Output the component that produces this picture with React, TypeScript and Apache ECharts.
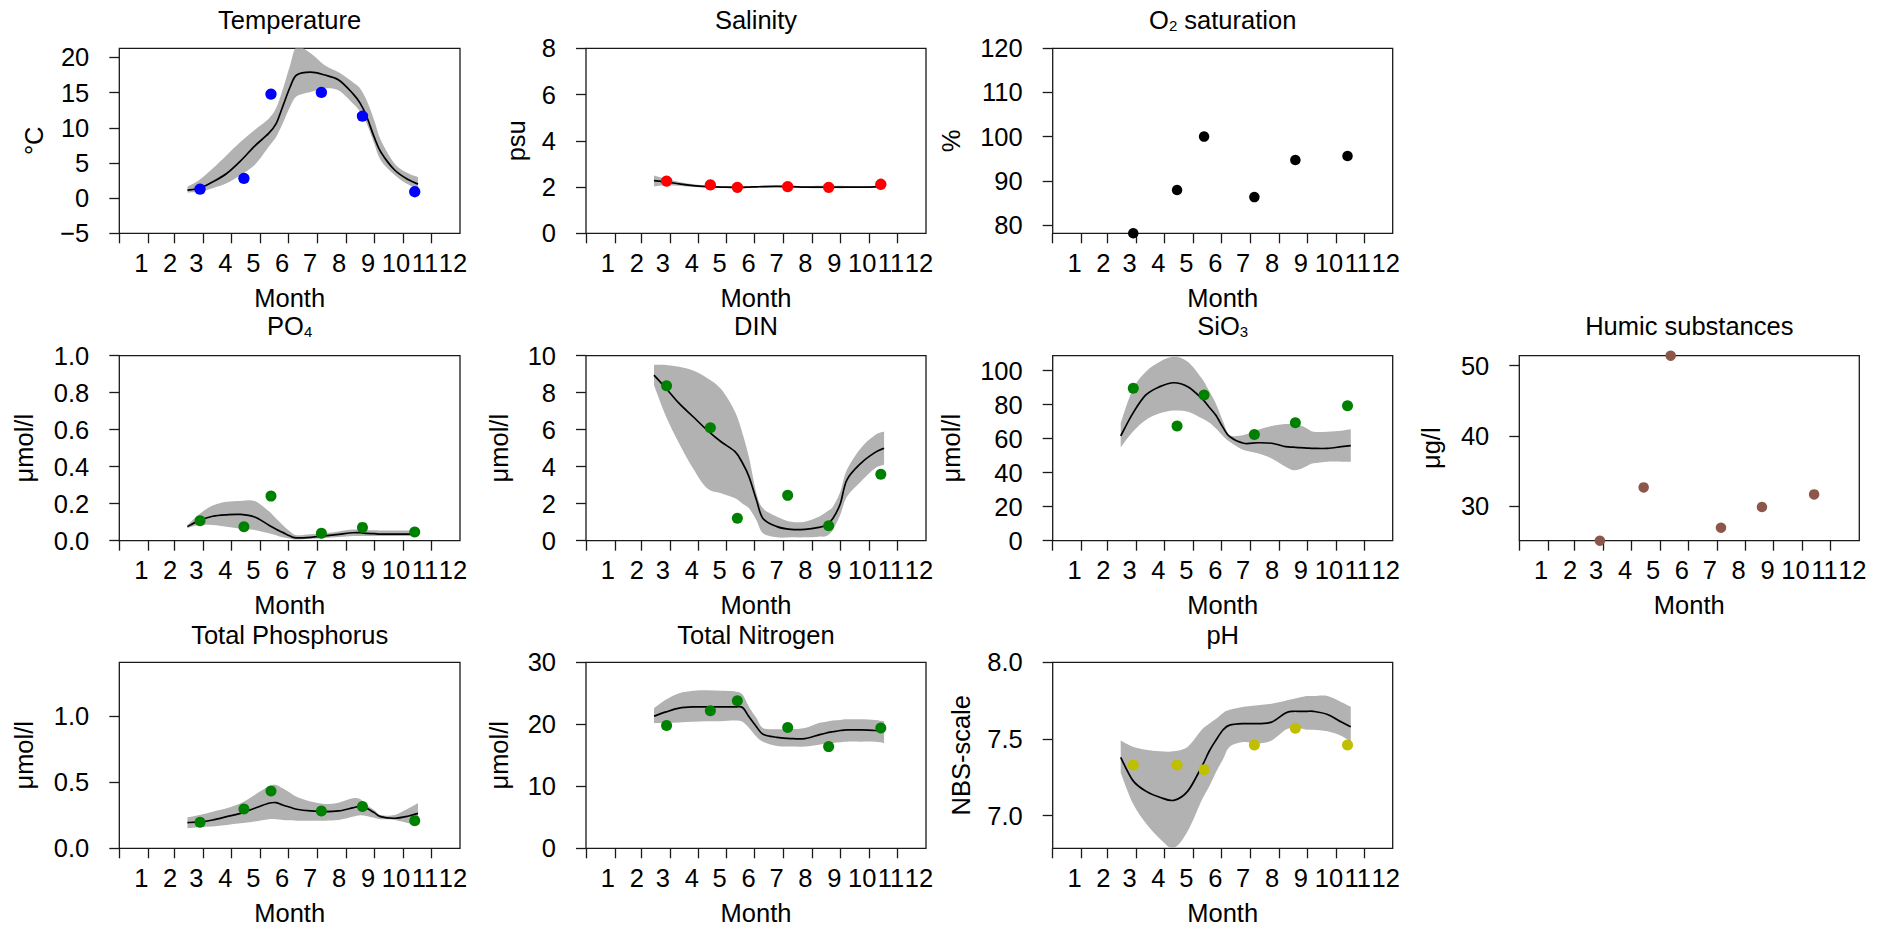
import React, { useEffect, useRef } from "react";
import * as echarts from "echarts";

// ---------- x axis (day of year) ----------
const MONTH_STARTS = [0, 31, 59, 90, 120, 151, 181, 212, 243, 273, 304, 334];
const MONTH_LABEL_POS = [23.5, 54.5, 82.5, 113.5, 143.5, 174.5, 204.5, 235.5, 266.5, 296.5, 327.5, 357.5];
const MONTH_LABELS = ["1", "2", "3", "4", "5", "6", "7", "8", "9", "10", "11", "12"];

// sampling days
const OBS_DAYS = [86.5, 133.5, 162.5, 216.5, 260.5, 316.5];
const FIT_DAYS = [73, 86, 100, 115, 130, 145, 160, 168, 175, 183, 190, 205, 220, 235, 250, 258, 265, 273, 280, 295, 310, 320];

// ---------- Temperature ----------
const TEMP_OBS = [1.29, 2.81, 14.79, 15.03, 11.66, 0.91];
const TEMP_FIT = [1.15, 1.4, 2.3, 3.5, 5.3, 7.4, 9.2, 10.6, 13.0, 15.8, 17.5, 17.9, 17.5, 16.8, 14.9, 13.5, 11.6, 8.7, 6.6, 4.0, 2.6, 2.0];
const TEMP_HI = [1.6, 2.6, 4.2, 6.1, 8.0, 9.7, 11.3, 12.8, 15.4, 18.9, 21.5, 20.6, 18.9, 17.9, 16.5, 15.6, 13.9, 11.1, 8.3, 4.9, 3.5, 3.0];
const TEMP_LO = [0.8, 0.9, 1.4, 2.1, 3.3, 4.7, 7.3, 8.7, 10.6, 13.0, 14.5, 15.1, 15.6, 15.3, 13.5, 12.3, 10.6, 7.8, 5.4, 3.3, 1.9, 1.4];

// ---------- Salinity ----------
const SAL_OBS = [2.26, 2.09, 1.99, 2.02, 1.99, 2.12];
const SAL_FIT = [2.28, 2.22, 2.14, 2.06, 2.02, 2.0, 1.99, 1.99, 2.0, 2.01, 2.02, 2.03, 2.02, 2.0, 2.0, 2.0, 2.0, 2.0, 2.0, 2.0, 2.01, 2.05];
const SAL_HI = [2.5, 2.35, 2.22, 2.12, 2.06, 2.04, 2.03, 2.03, 2.04, 2.05, 2.06, 2.08, 2.06, 2.05, 2.06, 2.06, 2.06, 2.06, 2.05, 2.04, 2.06, 2.1];
const SAL_LO = [2.03, 2.08, 2.06, 2.0, 1.98, 1.96, 1.95, 1.95, 1.96, 1.97, 1.98, 1.99, 1.98, 1.96, 1.95, 1.95, 1.95, 1.95, 1.96, 1.97, 1.97, 2.0];

// ---------- O2 saturation ----------
const O2_OBS = [78.1, 87.9, 100.0, 86.3, 94.7, 95.6];

// ---------- PO4 ----------
const PO4_OBS = [0.108, 0.076, 0.241, 0.04, 0.072, 0.047];
const PO4_FIT = [0.076, 0.11, 0.132, 0.14, 0.142, 0.128, 0.085, 0.062, 0.045, 0.025, 0.015, 0.018, 0.026, 0.034, 0.043, 0.043, 0.04, 0.038, 0.036, 0.036, 0.036, 0.036];
const PO4_HI = [0.085, 0.145, 0.19, 0.21, 0.215, 0.215, 0.16, 0.12, 0.085, 0.05, 0.03, 0.035, 0.04, 0.05, 0.06, 0.06, 0.058, 0.056, 0.055, 0.055, 0.055, 0.055];
const PO4_LO = [0.07, 0.085, 0.085, 0.075, 0.065, 0.058, 0.04, 0.03, 0.018, 0.01, 0.006, 0.01, 0.014, 0.02, 0.025, 0.025, 0.025, 0.025, 0.025, 0.025, 0.025, 0.025];

// ---------- DIN ----------
const DIN_OBS = [8.38, 6.11, 1.21, 2.45, 0.81, 3.59];
const DIN_FIT = [8.95, 8.23, 7.42, 6.7, 5.98, 5.35, 4.81, 4.2, 3.46, 2.2, 1.2, 0.76, 0.61, 0.61, 0.72, 0.85, 1.2, 2.0, 3.28, 4.18, 4.76, 5.0];
const DIN_HI = [9.5, 9.5, 9.4, 9.2, 8.8, 8.2, 6.97, 5.8, 4.5, 2.56, 1.75, 1.3, 1.03, 1.03, 1.3, 1.55, 1.84, 2.65, 3.82, 5.0, 5.7, 5.9];
const DIN_LO = [8.4, 6.7, 5.26, 3.9, 2.83, 2.56, 2.29, 2.0, 1.75, 1.1, 0.4, 0.18, 0.18, 0.18, 0.22, 0.25, 0.58, 1.4, 2.38, 3.19, 3.9, 4.1];

// ---------- SiO3 ----------
const SIO3_OBS = [89.6, 67.5, 85.7, 62.5, 69.4, 79.4];
const SIO3_FIT = [61.6, 74.9, 85.7, 90.6, 92.9, 90.6, 83.7, 78.5, 73.9, 66.5, 61.2, 57.3, 57.6, 57.3, 55.3, 55.0, 54.7, 54.5, 54.3, 54.3, 55.3, 55.9];
const SIO3_HI = [69, 89, 99.4, 105.3, 108.2, 105.3, 95.5, 88, 80.8, 70, 62.2, 62.2, 65.1, 67.5, 68.6, 68.5, 68.0, 66.0, 64.1, 64.1, 64.7, 65.5];
const SIO3_LO = [54.9, 64.1, 71, 74.9, 76.5, 75.9, 72, 69.5, 66.1, 61.5, 58.2, 53.3, 51.4, 48.4, 43.5, 41.5, 42, 44, 45.5, 46.5, 46.5, 46.5];

// ---------- Humic substances ----------
const HUMIC_OBS = [25.06, 32.66, 51.43, 26.91, 29.86, 31.66];

// ---------- Total Phosphorus ----------
const TP_OBS = [0.196, 0.297, 0.433, 0.282, 0.315, 0.209];
const TP_FIT = [0.194, 0.199, 0.214, 0.239, 0.264, 0.302, 0.34, 0.345, 0.327, 0.31, 0.295, 0.282, 0.277, 0.282, 0.305, 0.318, 0.302, 0.27, 0.239, 0.227, 0.244, 0.264];
const TP_HI = [0.234, 0.252, 0.277, 0.302, 0.34, 0.403, 0.466, 0.479, 0.453, 0.42, 0.39, 0.353, 0.335, 0.345, 0.378, 0.372, 0.327, 0.29, 0.252, 0.252, 0.302, 0.34];
const TP_LO = [0.151, 0.159, 0.164, 0.176, 0.189, 0.202, 0.219, 0.219, 0.214, 0.211, 0.209, 0.209, 0.209, 0.214, 0.239, 0.25, 0.244, 0.23, 0.219, 0.214, 0.189, 0.176];

// ---------- Total Nitrogen ----------
const TN_OBS = [19.8, 22.2, 23.8, 19.5, 16.4, 19.4];
const TN_FIT = [21.3, 22.0, 22.6, 22.8, 22.8, 22.8, 22.8, 22.7, 21.2, 19.6, 18.4, 17.9, 17.7, 17.7, 18.3, 18.6, 18.8, 19.0, 19.1, 19.1, 19.0, 19.0];
const TN_HI = [22.6, 24.0, 25.0, 25.4, 25.5, 25.4, 25.3, 24.8, 22.8, 21.0, 19.4, 19.2, 19.2, 19.4, 20.2, 20.4, 20.6, 20.7, 20.8, 20.8, 20.7, 20.5];
const TN_LO = [20.2, 20.2, 20.3, 20.4, 20.5, 20.5, 20.6, 20.4, 19.4, 18.0, 17.2, 16.5, 16.4, 16.4, 16.7, 16.9, 17.0, 17.1, 17.2, 17.2, 17.2, 17.0];

// ---------- pH ----------
const PH_OBS = [7.33, 7.33, 7.3, 7.46, 7.57, 7.46];
const PH_FIT = [7.38, 7.23, 7.16, 7.12, 7.1, 7.16, 7.32, 7.42, 7.49, 7.56, 7.59, 7.6, 7.6, 7.61, 7.67, 7.68, 7.68, 7.68, 7.68, 7.66, 7.61, 7.58];
const PH_HI = [7.49, 7.45, 7.43, 7.42, 7.42, 7.45, 7.56, 7.6, 7.63, 7.67, 7.69, 7.71, 7.72, 7.73, 7.75, 7.76, 7.77, 7.78, 7.78, 7.78, 7.74, 7.71];
const PH_LO = [7.28, 7.08, 6.95, 6.85, 6.79, 6.9, 7.1, 7.19, 7.28, 7.37, 7.45, 7.48, 7.47, 7.49, 7.56, 7.57, 7.57, 7.56, 7.56, 7.55, 7.52, 7.48];

// ---------- y tick values ----------
const TEMP_TICKS = [-5, 0, 5, 10, 15, 20];
const SAL_TICKS = [0, 2, 4, 6, 8];
const O2_TICKS = [80, 90, 100, 110, 120];
const PO4_TICKS = [0, 0.2, 0.4, 0.6, 0.8, 1.0];
const DIN_TICKS = [0, 2, 4, 6, 8, 10];
const SIO3_TICKS = [0, 20, 40, 60, 80, 100];
const HUMIC_TICKS = [30, 40, 50];
const TP_TICKS = [0, 0.5, 1.0];
const TN_TICKS = [0, 10, 20, 30];
const PH_TICKS = [7.0, 7.5, 8.0];

// ---------- layout / style ----------
const FONT = "'Liberation Sans', Arial, Helvetica, sans-serif";
const FS = 25.5;
const INK = "#000000";
const FRAME = "#1a1a1a";
const BAND = "#b2b2b2";
const COL_LEFT = [119.3, 586, 1052.7, 1519.3];
const COL_W = [340.7, 340, 340, 340];
const ROW_TOP = [48.3, 355.7, 662.3];
const ROW_H = [185, 185, 186];
const TITLE_TOP = [7, 313, 622.4];

type Panel = {
  title: string;
  col: number;
  row: number;
  yName: string;
  nameGap: number;
  color: string;
  size: number;
  yMin: number;
  yMax: number;
  ticks: number[];
  dec: number;
  obs: number[];
  fit?: number[];
  hi?: number[];
  lo?: number[];
};

const PANELS: Panel[] = [
  { title: "Temperature", col: 0, row: 0, yName: "°C", nameGap: 72, color: "#0000ff", size: 11.3, yMin: -5, yMax: 21.3, ticks: TEMP_TICKS, dec: 0, obs: TEMP_OBS, fit: TEMP_FIT, hi: TEMP_HI, lo: TEMP_LO },
  { title: "Salinity", col: 1, row: 0, yName: "psu", nameGap: 57.4, color: "#ff0000", size: 11.3, yMin: 0, yMax: 8, ticks: SAL_TICKS, dec: 0, obs: SAL_OBS, fit: SAL_FIT, hi: SAL_HI, lo: SAL_LO },
  { title: "O{sub|2} saturation", col: 2, row: 0, yName: "%", nameGap: 88.8, color: "#000000", size: 10.5, yMin: 78.1, yMax: 120, ticks: O2_TICKS, dec: 0, obs: O2_OBS },
  { title: "PO{sub|4}", col: 0, row: 1, yName: "μmol/l", nameGap: 82, color: "#008000", size: 11, yMin: 0, yMax: 1, ticks: PO4_TICKS, dec: 1, obs: PO4_OBS, fit: PO4_FIT, hi: PO4_HI, lo: PO4_LO },
  { title: "DIN", col: 1, row: 1, yName: "μmol/l", nameGap: 73.8, color: "#008000", size: 11, yMin: 0, yMax: 10, ticks: DIN_TICKS, dec: 0, obs: DIN_OBS, fit: DIN_FIT, hi: DIN_HI, lo: DIN_LO },
  { title: "SiO{sub|3}", col: 2, row: 1, yName: "μmol/l", nameGap: 88.8, color: "#008000", size: 11, yMin: 0, yMax: 108.8, ticks: SIO3_TICKS, dec: 0, obs: SIO3_OBS, fit: SIO3_FIT, hi: SIO3_HI, lo: SIO3_LO },
  { title: "Humic substances", col: 3, row: 1, yName: "μg/l", nameGap: 75.4, color: "#8c564b", size: 10.5, yMin: 25.06, yMax: 51.43, ticks: HUMIC_TICKS, dec: 0, obs: HUMIC_OBS },
  { title: "Total Phosphorus", col: 0, row: 2, yName: "μmol/l", nameGap: 82, color: "#008000", size: 11, yMin: 0, yMax: 1.405, ticks: TP_TICKS, dec: 1, obs: TP_OBS, fit: TP_FIT, hi: TP_HI, lo: TP_LO },
  { title: "Total Nitrogen", col: 1, row: 2, yName: "μmol/l", nameGap: 73.8, color: "#008000", size: 11, yMin: 0, yMax: 30, ticks: TN_TICKS, dec: 0, obs: TN_OBS, fit: TN_FIT, hi: TN_HI, lo: TN_LO },
  { title: "pH", col: 2, row: 2, yName: "NBS-scale", nameGap: 78.8, color: "#bfbf00", size: 11, yMin: 6.787, yMax: 8.0, ticks: PH_TICKS, dec: 1, obs: PH_OBS, fit: PH_FIT, hi: PH_HI, lo: PH_LO },
];

// Catmull-Rom style smoothing of pixel points into cubic bezier segments
function smoothSegs(pts: number[][]): string {
  let s = "";
  for (let i = 0; i < pts.length - 1; i++) {
    const p0 = pts[i - 1] || pts[i];
    const p1 = pts[i];
    const p2 = pts[i + 1];
    const p3 = pts[i + 2] || p2;
    const c1x = p1[0] + (p2[0] - p0[0]) / 6;
    const c1y = p1[1] + (p2[1] - p0[1]) / 6;
    const c2x = p2[0] - (p3[0] - p1[0]) / 6;
    const c2y = p2[1] - (p3[1] - p1[1]) / 6;
    s += ` C ${c1x} ${c1y} ${c2x} ${c2y} ${p2[0]} ${p2[1]}`;
  }
  return s;
}

function buildOption() {
  const grid: any[] = [];
  const xAxis: any[] = [];
  const yAxis: any[] = [];
  const series: any[] = [];
  const graphic: any[] = [];
  const textBase = { fontSize: FS, color: INK, fontFamily: FONT };

  PANELS.forEach((p, i) => {
    const left = COL_LEFT[p.col];
    const width = COL_W[p.col];
    const top = ROW_TOP[p.row];
    const height = ROW_H[p.row];
    grid.push({ left, top, width, height, show: true, borderColor: FRAME, borderWidth: 1.3, backgroundColor: "transparent", containLabel: false });

    xAxis.push({
      gridIndex: i,
      type: "value",
      min: 0,
      max: 365,
      axisLine: { show: false, onZero: false },
      splitLine: { show: false },
      axisTick: { show: true, customValues: MONTH_STARTS, length: 10, lineStyle: { color: FRAME, width: 1.3 } },
      axisLabel: {
        customValues: MONTH_LABEL_POS,
        formatter: (v: number) => {
          const k = MONTH_LABEL_POS.indexOf(v);
          return k >= 0 ? MONTH_LABELS[k] : "";
        },
        margin: 16.7,
        ...textBase,
      },
      name: "Month",
      nameLocation: "middle",
      nameGap: 51.7,
      nameTextStyle: { ...textBase },
    });

    yAxis.push({
      gridIndex: i,
      type: "value",
      min: p.yMin,
      max: p.yMax,
      axisLine: { show: false, onZero: false },
      splitLine: { show: false },
      axisTick: { show: true, customValues: p.ticks, length: 10, lineStyle: { color: FRAME, width: 1.3 } },
      axisLabel: {
        customValues: p.ticks,
        formatter: (v: number) => v.toFixed(p.dec).replace("-", "\u2212"),
        margin: 30,
        ...textBase,
      },
      name: p.yName,
      nameLocation: "middle",
      nameRotate: 90,
      nameGap: p.nameGap,
      nameTextStyle: { ...textBase },
    });

    if (p.fit && p.hi && p.lo) {
      const lo = p.lo;
      const hi = p.hi;
      series.push({
        type: "custom",
        xAxisIndex: i,
        yAxisIndex: i,
        clip: true,
        silent: true,
        z: 1,
        encode: { x: 0, y: [1, 2] },
        data: FIT_DAYS.map((d, k) => [d, lo[k], hi[k]]),
        renderItem: (params: any, api: any) => {
          if (params.dataIndex !== 0) return null;
          const up = FIT_DAYS.map((d, k) => api.coord([d, hi[k]]));
          const dn = FIT_DAYS.map((d, k) => api.coord([d, lo[k]])).reverse();
          const pathData =
            `M ${up[0][0]} ${up[0][1]}` + smoothSegs(up) + ` L ${dn[0][0]} ${dn[0][1]}` + smoothSegs(dn) + " Z";
          const cs = params.coordSys;
          return {
            type: "path",
            shape: { pathData },
            style: { fill: BAND, stroke: "none" },
            clipPath: { type: "rect", shape: { x: cs.x, y: cs.y, width: cs.width, height: cs.height } },
          };
        },
      });
      const fit = p.fit;
      series.push({
        type: "custom",
        xAxisIndex: i,
        yAxisIndex: i,
        clip: true,
        silent: true,
        z: 2,
        encode: { x: 0, y: 1 },
        data: FIT_DAYS.map((d, k) => [d, fit[k]]),
        renderItem: (params: any, api: any) => {
          if (params.dataIndex !== 0) return null;
          const pts = FIT_DAYS.map((d, k) => api.coord([d, fit[k]]));
          const pathData = `M ${pts[0][0]} ${pts[0][1]}` + smoothSegs(pts);
          return {
            type: "path",
            shape: { pathData },
            style: { fill: "none", stroke: "#000000", lineWidth: 1.7 },
          };
        },
      });
    }

    series.push({
      type: "scatter",
      xAxisIndex: i,
      yAxisIndex: i,
      data: OBS_DAYS.map((d, k) => [d, p.obs[k]]),
      symbol: "circle",
      symbolSize: p.size,
      itemStyle: { color: p.color, opacity: 1 },
      clip: false,
      silent: true,
      z: 3,
    });

    graphic.push({
      type: "text",
      x: left + width / 2,
      y: TITLE_TOP[p.row],
      silent: true,
      style: {
        text: p.title,
        fill: INK,
        fontSize: FS,
        fontFamily: FONT,
        lineHeight: 26,
        align: "center",
        verticalAlign: "top",
        rich: {
          sub: { fontSize: 15, fontFamily: FONT, fill: INK, lineHeight: 5, verticalAlign: "bottom" },
        },
      },
    });
  });

  return {
    animation: false,
    backgroundColor: "#ffffff",
    textStyle: { fontFamily: FONT },
    grid,
    xAxis,
    yAxis,
    series,
    graphic,
  };
}

export default function App() {
  const ref = useRef<HTMLDivElement>(null);
  useEffect(() => {
    document.body.style.margin = "0";
    if (!ref.current) return;
    const chart = echarts.init(ref.current, null, { renderer: "svg" });
    chart.setOption(buildOption() as any);
    return () => chart.dispose();
  }, []);
  return <div ref={ref} style={{ width: 1886, height: 929, background: "#fff" }} />;
}
